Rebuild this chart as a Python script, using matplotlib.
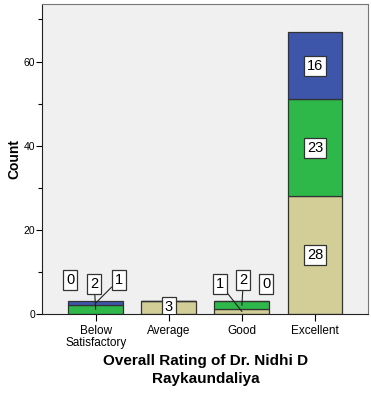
import numpy as np
import matplotlib.pyplot as plt

plt.rcParams['font.family'] = ['Liberation Sans', 'DejaVu Sans']

# Data
categories = ['Below\nSatisfactory', 'Average', 'Good', 'Excellent']
tan_vals = [0, 3, 1, 28]
green_vals = [2, 0, 2, 23]
blue_vals = [1, 0, 0, 16]

TAN = '#D3CE97'
GREEN = '#2EB84A'
BLUE = '#3E56AA'
BG = '#F0F0F0'

fig = plt.figure(figsize=(3.71, 3.94), dpi=100)
ax = fig.add_axes([0.114, 0.204, 0.879, 0.786])
ax.set_facecolor(BG)

x = np.arange(len(categories))
w = 0.75
tan = np.array(tan_vals)
green = np.array(green_vals)
blue = np.array(blue_vals)

ax.bar(x, tan, w, color=TAN, edgecolor='#333333', linewidth=0.9, zorder=2)
ax.bar(x, green, w, bottom=tan, color=GREEN, edgecolor='#333333', linewidth=0.9, zorder=2)
ax.bar(x, blue, w, bottom=tan + green, color=BLUE, edgecolor='#333333', linewidth=0.9, zorder=2)

box = dict(boxstyle='square,pad=0.2', facecolor='white', edgecolor='#333333', linewidth=0.9)
label_font = ['Liberation Sans Narrow', 'Liberation Sans', 'DejaVu Sans']

def seg_label(xi, val, center, dx=0.0, ty=None, line=False):
    if ty is None:
        ax.annotate(str(val), (xi, center), ha='center', va='center', fontsize=10.5,
                    family=label_font, bbox=box, zorder=5, annotation_clip=False, clip_on=True)
    else:
        ax.annotate(str(val), xy=(xi, center), xytext=(xi + dx, ty), ha='center', va='center',
                    fontsize=10.5, family=label_font, bbox=box, zorder=5,
                    arrowprops=dict(arrowstyle='-', color='#222222', lw=0.8,
                                    shrinkA=0, shrinkB=0) if line else None)

# small stacks: labels pulled above the bar
seg_label(x[0], tan[0], tan[0] / 2, dx=-0.35, ty=8.1)
seg_label(x[0], green[0], tan[0] + green[0] / 2, dx=-0.02, ty=7.1, line=True)
seg_label(x[0], blue[0], tan[0] + green[0] + blue[0] / 2, dx=0.32, ty=8.1, line=True)

seg_label(x[1], tan[1], tan[1] / 2)

seg_label(x[2], tan[2], tan[2] / 2, dx=-0.30, ty=7.1, line=True)
seg_label(x[2], green[2], tan[2] + green[2] / 2, dx=0.02, ty=8.1, line=True)
seg_label(x[2], blue[2], tan[2] + green[2] + blue[2] / 2, dx=0.33, ty=7.1)

# large stack: labels in the middle of each segment
seg_label(x[3], tan[3], tan[3] / 2)
seg_label(x[3], green[3], tan[3] + green[3] / 2)
seg_label(x[3], blue[3], tan[3] + green[3] + blue[3] / 2)

ax.set_xlim(-0.73, 3.73)
ax.set_ylim(0, 73.7)
ax.set_yticks([0, 20, 40, 60])
ax.set_yticks([10, 30, 50, 70], minor=True)
ax.set_xticks(x)
ax.set_xticklabels(categories, fontsize=8.5, linespacing=1.0)
ax.tick_params(axis='y', labelsize=7.5, length=4, width=0.8, direction='out', pad=1)
ax.tick_params(axis='y', which='minor', length=3, width=0.8)
ax.tick_params(axis='x', length=5, width=0.8, direction='out', pad=3)

for side in ['top', 'right']:
    ax.spines[side].set_color('#777777')
    ax.spines[side].set_linewidth(0.8)
for side in ['left', 'bottom']:
    ax.spines[side].set_color('#222222')
    ax.spines[side].set_linewidth(0.8)

ax.set_ylabel('Count', fontsize=10, fontweight='bold', labelpad=2)
ax.set_xlabel('Overall Rating of Dr. Nidhi D\nRaykaundaliya', fontsize=11,
              fontweight='bold', labelpad=4, linespacing=1.3)

fig.savefig('out.png', dpi=100, facecolor='white')
